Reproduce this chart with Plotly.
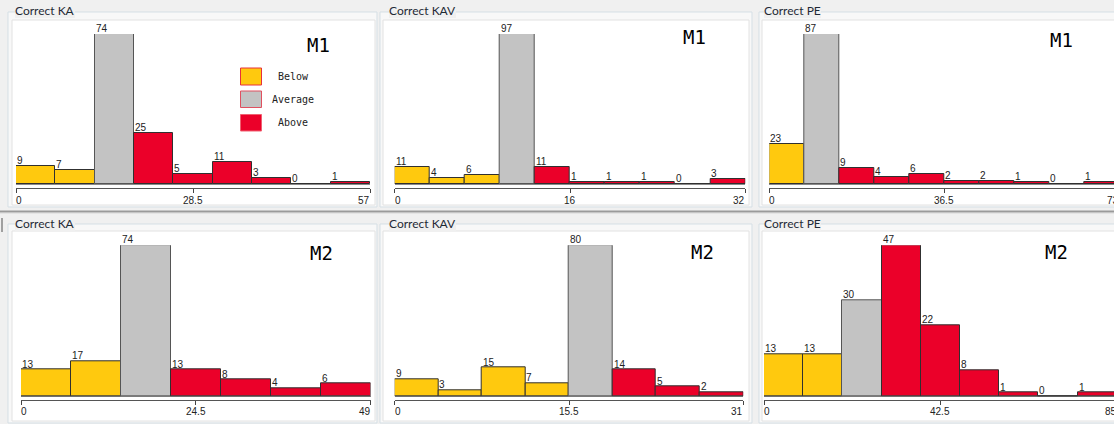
import plotly.graph_objects as go

W, H = 1114, 424

# ---------------- data ----------------
ka_m1_counts = [9, 7, 74, 25, 5, 11, 3, 0, 1]
kav_m1_counts = [11, 4, 6, 97, 11, 1, 1, 1, 0, 3]
pe_m1_counts = [23, 87, 9, 4, 6, 2, 2, 1, 0, 1]
ka_m2_counts = [13, 17, 74, 13, 8, 4, 6]
kav_m2_counts = [9, 3, 15, 7, 80, 14, 5, 2]
pe_m2_counts = [13, 13, 30, 47, 22, 8, 1, 0, 1]

# upper end of each score axis
ka_m1_xmax, kav_m1_xmax, pe_m1_xmax = 57, 32, 73
ka_m2_xmax, kav_m2_xmax, pe_m2_xmax = 49, 31, 85

# bin that holds the average; bins before are "Below", bins after are "Above"
ka_m1_avg_bin, kav_m1_avg_bin, pe_m1_avg_bin = 2, 3, 1
ka_m2_avg_bin, kav_m2_avg_bin, pe_m2_avg_bin = 2, 4, 2

titles = ["Correct KA", "Correct KAV", "Correct PE"]
model_tags = ["M1", "M2"]
legend_labels = ["Below", "Average", "Above"]

# ---------------- style ----------------
WIN_BG = "#F0F0F0"
BOX_FILL = "#F8F8F8"
BOX_LINE = "#D5DFE5"
PANEL_LINE = "#E2E2E2"
COLORS = {"Below": "#FFC90E", "Average": "#C3C3C3", "Above": "#EB0029"}
EDGES = {"Below": "#303030", "Average": "#555555", "Above": "#303030"}
SWATCH_EDGE = {"Below": "#E8303A", "Average": "#E05060", "Above": "#F06070"}
NUM_FONT = dict(family="Liberation Sans", size=10, color="#222222")

# ---------------- layout geometry (pixels) ----------------
rows = [
    dict(base=184, top=34, axis=188, label=200,
         box=(12, 207), panel=(20, 205), title_y=11,
         spans=[(16, 370), (394.7, 745.3), (769.3, 1119.3)],
         tags=[(318, 44.5), (694.7, 37.5), (1061, 40)]),
    dict(base=396, top=245.3, axis=399.5, label=411.5,
         box=(224, 423), panel=(231, 421), title_y=223,
         spans=[(21, 370.5), (394.7, 743.3), (764, 1116.7)],
         tags=[(321.7, 253.3), (702.3, 251.7), (1056.7, 251.7)]),
]
box_x = [(8, 377), (380, 752), (759, 1130)]
panel_x = [(12, 375), (383, 749), (762, 1130)]
title_x = [15, 389, 764]


def px(x):
    return x / W


def py(y):
    return 1 - y / H


panels = [
    (0, 0, ka_m1_counts, ka_m1_xmax, ka_m1_avg_bin),
    (0, 1, kav_m1_counts, kav_m1_xmax, kav_m1_avg_bin),
    (0, 2, pe_m1_counts, pe_m1_xmax, pe_m1_avg_bin),
    (1, 0, ka_m2_counts, ka_m2_xmax, ka_m2_avg_bin),
    (1, 1, kav_m2_counts, kav_m2_xmax, kav_m2_avg_bin),
    (1, 2, pe_m2_counts, pe_m2_xmax, pe_m2_avg_bin),
]

fig = go.Figure()
layout = dict(
    width=W, height=H, margin=dict(l=0, r=0, t=0, b=0),
    paper_bgcolor=WIN_BG, plot_bgcolor="rgba(0,0,0,0)",
    showlegend=False, bargap=0,
)
shapes = []
annotations = []

# window frames: group boxes and white chart panels
for r, row in enumerate(rows):
    for c in range(3):
        shapes.append(dict(type="rect", xref="paper", yref="paper", layer="below",
                           x0=px(box_x[c][0]), x1=px(box_x[c][1]),
                           y0=py(row["box"][1]), y1=py(row["box"][0]),
                           fillcolor=BOX_FILL, line=dict(color=BOX_LINE, width=1)))
        shapes.append(dict(type="rect", xref="paper", yref="paper", layer="below",
                           x0=px(panel_x[c][0]), x1=px(panel_x[c][1]),
                           y0=py(row["panel"][1]), y1=py(row["panel"][0]),
                           fillcolor="#FFFFFF", line=dict(color=PANEL_LINE, width=1)))
        annotations.append(dict(xref="paper", yref="paper", x=px(title_x[c]), y=py(row["title_y"]),
                                xanchor="left", yanchor="middle", showarrow=False,
                                text=titles[c], bgcolor=WIN_BG, borderpad=0, borderwidth=0,
                                font=dict(family="Lato", size=12, color="#1F2A36")))
        tx, ty = row["tags"][c]
        annotations.append(dict(xref="paper", yref="paper", x=px(tx), y=py(ty),
                                xanchor="center", yanchor="middle", showarrow=False,
                                text=model_tags[r],
                                font=dict(family="DejaVu Sans Mono", size=19, color="#000000")))

# splitter between the two rows
shapes.append(dict(type="line", xref="paper", yref="paper", layer="below",
                   x0=0, x1=1, y0=py(211.5), y1=py(211.5), line=dict(color="#9A9A9A", width=2)))
shapes.append(dict(type="line", xref="paper", yref="paper", layer="below",
                   x0=0, x1=1, y0=py(213.5), y1=py(213.5), line=dict(color="#E4E4E4", width=1)))
shapes.append(dict(type="line", xref="paper", yref="paper", layer="below",
                   x0=px(2), x1=px(2), y0=py(218), y1=py(232), line=dict(color="#505050", width=1)))

# histograms
for i, (r, c, counts, xmax, avg_bin) in enumerate(panels):
    row = rows[r]
    x0p, x1p = row["spans"][c]
    n = len(counts)
    binw = xmax / n
    ymax = max(counts)
    vis_end = min(x1p, W)
    x_range_end = xmax * (vis_end - x0p) / (x1p - x0p)
    y_low = -ymax * (row["axis"] - row["base"]) / (row["base"] - row["top"])

    groups = ["Below" if k < avg_bin else "Average" if k == avg_bin else "Above" for k in range(n)]
    xs = [(k + 0.5) * binw for k in range(n)]
    sfx = "" if i == 0 else str(i + 1)

    fig.add_trace(go.Bar(
        x=xs, y=counts, width=[binw] * n,
        marker=dict(color=[COLORS[g] for g in groups],
                    line=dict(color=[EDGES[g] for g in groups], width=1)),
        xaxis="x" + sfx, yaxis="y" + sfx, hoverinfo="x+y",
    ))

    ticks = [v for v in (0, xmax / 2, xmax) if v <= x_range_end + 1e-9]
    layout["xaxis" + sfx] = dict(
        domain=[px(x0p), px(vis_end)], range=[0, x_range_end], anchor="y" + sfx,
        showgrid=False, zeroline=False, showline=True, linecolor="#555555", linewidth=1,
        ticks="outside", ticklen=4, tickcolor="#444444", tickwidth=1,
        tickvals=ticks, showticklabels=False, fixedrange=True,
    )
    layout["yaxis" + sfx] = dict(
        domain=[py(row["axis"]), py(row["top"])], range=[y_low, ymax], anchor="x" + sfx,
        showgrid=False, showticklabels=False, ticks="", showline=False,
        zeroline=True, zerolinecolor="#8A8A8A", zerolinewidth=1, fixedrange=True,
    )

    # count above each bin, left aligned on the bin
    for k, v in enumerate(counts):
        annotations.append(dict(xref="x" + sfx, yref="y" + sfx, x=k * binw, y=v,
                                xanchor="left", yanchor="bottom", showarrow=False,
                                text=str(v), xshift=-1, yshift=-2, font=NUM_FONT))

    # axis labels: 0, middle, end
    annotations.append(dict(xref="x" + sfx, yref="paper", x=0, y=py(row["label"]),
                            xanchor="left", yanchor="middle", showarrow=False,
                            text="0", xshift=-2, font=NUM_FONT))
    annotations.append(dict(xref="x" + sfx, yref="paper", x=xmax / 2, y=py(row["label"]),
                            xanchor="center", yanchor="middle", showarrow=False,
                            text=f"{xmax / 2:g}", font=NUM_FONT))
    annotations.append(dict(xref="paper", yref="paper", x=px(x1p), y=py(row["label"]),
                            xanchor="right", yanchor="middle", showarrow=False,
                            text=f"{xmax:g}", xshift=2, font=NUM_FONT))

# colour key in the first chart
key_rows = [(68, 85), (91, 107.5), (114.5, 131)]
for (ya, yb), lab in zip(key_rows, legend_labels):
    shapes.append(dict(type="rect", xref="paper", yref="paper", layer="above",
                       x0=px(240.5), x1=px(261.5), y0=py(yb), y1=py(ya),
                       fillcolor=COLORS[lab], line=dict(color=SWATCH_EDGE[lab], width=1)))
    annotations.append(dict(xref="paper", yref="paper", x=px(293), y=py((ya + yb) / 2),
                            xanchor="center", yanchor="middle", showarrow=False, text=lab,
                            font=dict(family="DejaVu Sans Mono", size=10, color="#222222")))

layout["shapes"] = shapes
layout["annotations"] = annotations
fig.update_layout(**layout)

fig.write_html("out.html")
